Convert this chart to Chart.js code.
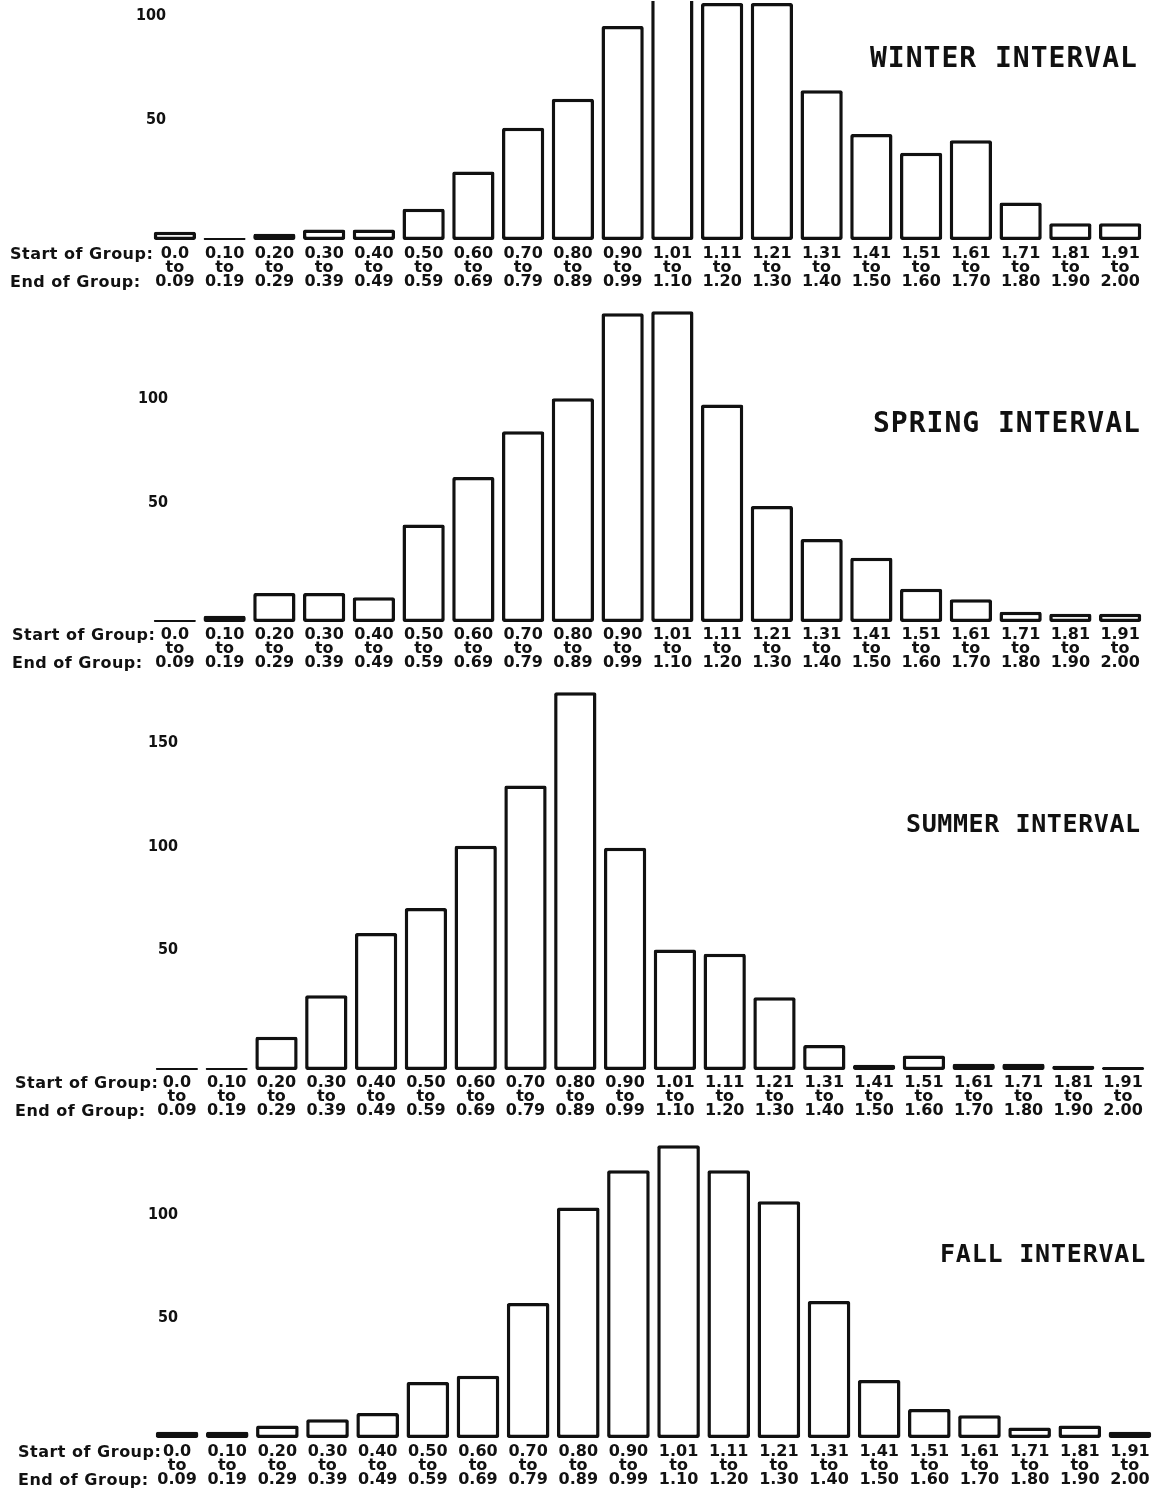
<!DOCTYPE html>
<html>
<head>
<meta charset="utf-8">
<script src="https://cdn.jsdelivr.net/npm/chart.js@4.4.1/dist/chart.umd.min.js"></script>
<style>
  html, body { margin: 0; padding: 0; background: #fff; }
  #page { position: relative; width: 1164px; height: 1499px; overflow: hidden; background: #fff; }
  canvas.panel { position: absolute; left: 0; }
  .title { position: absolute; font-family: 'DejaVu Sans Mono', monospace; font-weight: bold; color: #111; white-space: nowrap; line-height: 1; }
  .rowlab { position: absolute; font-family: 'DejaVu Sans', sans-serif; font-weight: bold; font-size: 16px; color: #111; white-space: nowrap; line-height: 1; letter-spacing: 0.5px; }
</style>
</head>
<body>
<div id="page"></div>
<script>
// ---------------- DATA ----------------
const startLabels = ['0.0','0.10','0.20','0.30','0.40','0.50','0.60','0.70','0.80','0.90','1.01','1.11','1.21','1.31','1.41','1.51','1.61','1.71','1.81','1.91'];
const endLabels   = ['0.09','0.19','0.29','0.39','0.49','0.59','0.69','0.79','0.89','0.99','1.10','1.20','1.30','1.40','1.50','1.60','1.70','1.80','1.90','2.00'];

const winterValues = [4, 1, 3, 5, 5, 15, 33, 54, 68, 103, 118, 114, 114, 72, 51, 42, 48, 18, 8, 8];
const springValues = [1, 3, 14, 14, 12, 47, 70, 92, 108, 149, 150, 105, 56, 40, 31, 16, 11, 5, 4, 4];
const summerValues = [1, 1, 16, 36, 66, 78, 108, 137, 182, 107, 58, 56, 35, 12, 2.5, 7, 3, 3, 2, 1.5];
const fallValues   = [3, 3, 6, 9, 12, 27, 30, 65, 111, 129, 141, 129, 114, 66, 28, 14, 11, 5, 6, 3];

const winterTicks = [50, 100];
const springTicks = [50, 100];
const summerTicks = [50, 100, 150];
const fallTicks   = [50, 100];

const titles = ['WINTER INTERVAL', 'SPRING INTERVAL', 'SUMMER INTERVAL', 'FALL INTERVAL'];
const startRowText = 'Start of Group:';
const endRowText = 'End of Group:';

// ---------------- LAYOUT ----------------
const PX_PER_UNIT = 2.075;
const XAXIS_H = 52;
const LINE_H = 14;
const Y_FONT = { family: 'DejaVu Sans Condensed', weight: 'bold', size: 16 };
const panels = [
  { values: winterValues, ticks: winterTicks, title: titles[0], zeroY: 240, yMax: 115, left: 150, right: 1145, tickLabelRight: 166, tickPad: 7,
    titleX: 870, titleY: 55, titleSize: 28, titleSpacing: 1.0, rowX: 10 },
  { values: springValues, ticks: springTicks, title: titles[1], zeroY: 622, yMax: 152, left: 150, right: 1145, tickLabelRight: 168, tickPad: 6,
    titleX: 873, titleY: 420, titleSize: 28, titleSpacing: 1.0, rowX: 12 },
  { values: summerValues, ticks: summerTicks, title: titles[2], zeroY: 1070, yMax: 184, left: 152, right: 1148, tickLabelRight: 178, tickPad: 6,
    titleX: 906, titleY: 820, titleSize: 25, titleSpacing: 0.6, rowX: 15 },
  { values: fallValues, ticks: fallTicks, title: titles[3], zeroY: 1438, yMax: 145, left: 152, right: 1155, tickLabelRight: 178, tickPad: 7,
    titleX: 940, titleY: 1250, titleSize: 25, titleSpacing: 0.8, rowX: 18 }
];

const page = document.getElementById('page');
const measureCtx = document.createElement('canvas').getContext('2d');
measureCtx.font = Y_FONT.weight + ' ' + Y_FONT.size + 'px "' + Y_FONT.family + '"';

panels.forEach((p) => {
  const areaH = p.yMax * PX_PER_UNIT;
  const top = p.zeroY - areaH;
  const canvasH = areaH + XAXIS_H;
  const canvas = document.createElement('canvas');
  canvas.className = 'panel';
  canvas.style.top = top + 'px';
  canvas.style.width = '1164px';
  canvas.style.height = canvasH + 'px';
  canvas.width = 1164;
  canvas.height = Math.round(canvasH);
  page.appendChild(canvas);

  const widest = Math.max(...p.ticks.map(v => measureCtx.measureText(String(v)).width));

  new Chart(canvas, {
    type: 'bar',
    data: {
      labels: startLabels.map((s, i) => [s, 'to', endLabels[i]]),
      datasets: [{
        data: p.values,
        backgroundColor: '#ffffff',
        borderColor: '#111111',
        borderWidth: 3.5,
        borderSkipped: false,
        borderRadius: 2,
        barPercentage: 0.85,
        categoryPercentage: 1.0
      }]
    },
    options: {
      responsive: false,
      animation: false,
      devicePixelRatio: 1,
      layout: { padding: { left: p.left, right: 1164 - p.right, top: 0, bottom: 0 } },
      plugins: { legend: { display: false }, title: { display: false }, tooltip: { enabled: false } },
      scales: {
        x: {
          type: 'category',
          offset: true,
          grid: { display: false, drawTicks: false },
          border: { display: false },
          afterFit: (s) => { s.height = XAXIS_H; s.paddingLeft = 0; s.paddingRight = 0; },
          ticks: {
            autoSkip: false, maxRotation: 0, minRotation: 0,
            padding: p.tickPad,
            color: '#111',
            font: { family: 'DejaVu Sans', weight: 'bold', size: 16, lineHeight: LINE_H + 'px' }
          }
        },
        y: {
          type: 'linear',
          min: 0,
          max: p.yMax,
          grid: { display: false, drawTicks: false },
          border: { display: false },
          afterBuildTicks: (s) => { s.ticks = p.ticks.map(v => ({ value: v })); },
          afterFit: (s) => { s.width = 0; s.paddingTop = 0; s.paddingBottom = 0; },
          ticks: {
            mirror: true,
            crossAlign: 'far',
            padding: p.tickLabelRight - p.left - widest,
            labelOffset: -16,
            color: '#111',
            font: Y_FONT
          }
        }
      }
    }
  });

  const t = document.createElement('div');
  t.className = 'title';
  t.textContent = p.title;
  t.style.fontSize = p.titleSize + 'px';
  t.style.letterSpacing = p.titleSpacing + 'px';
  t.style.left = p.titleX + 'px';
  t.style.top = (p.titleY - p.titleSize * 0.38) + 'px';
  page.appendChild(t);

  const r1 = document.createElement('div');
  r1.className = 'rowlab';
  r1.textContent = startRowText;
  r1.style.left = p.rowX + 'px';
  r1.style.top = (p.zeroY + p.tickPad + LINE_H / 2 - 8.5) + 'px';
  page.appendChild(r1);

  const r2 = document.createElement('div');
  r2.className = 'rowlab';
  r2.textContent = endRowText;
  r2.style.left = p.rowX + 'px';
  r2.style.top = (p.zeroY + p.tickPad + LINE_H * 2.5 - 8.5) + 'px';
  page.appendChild(r2);
});
</script>
</body>
</html>
